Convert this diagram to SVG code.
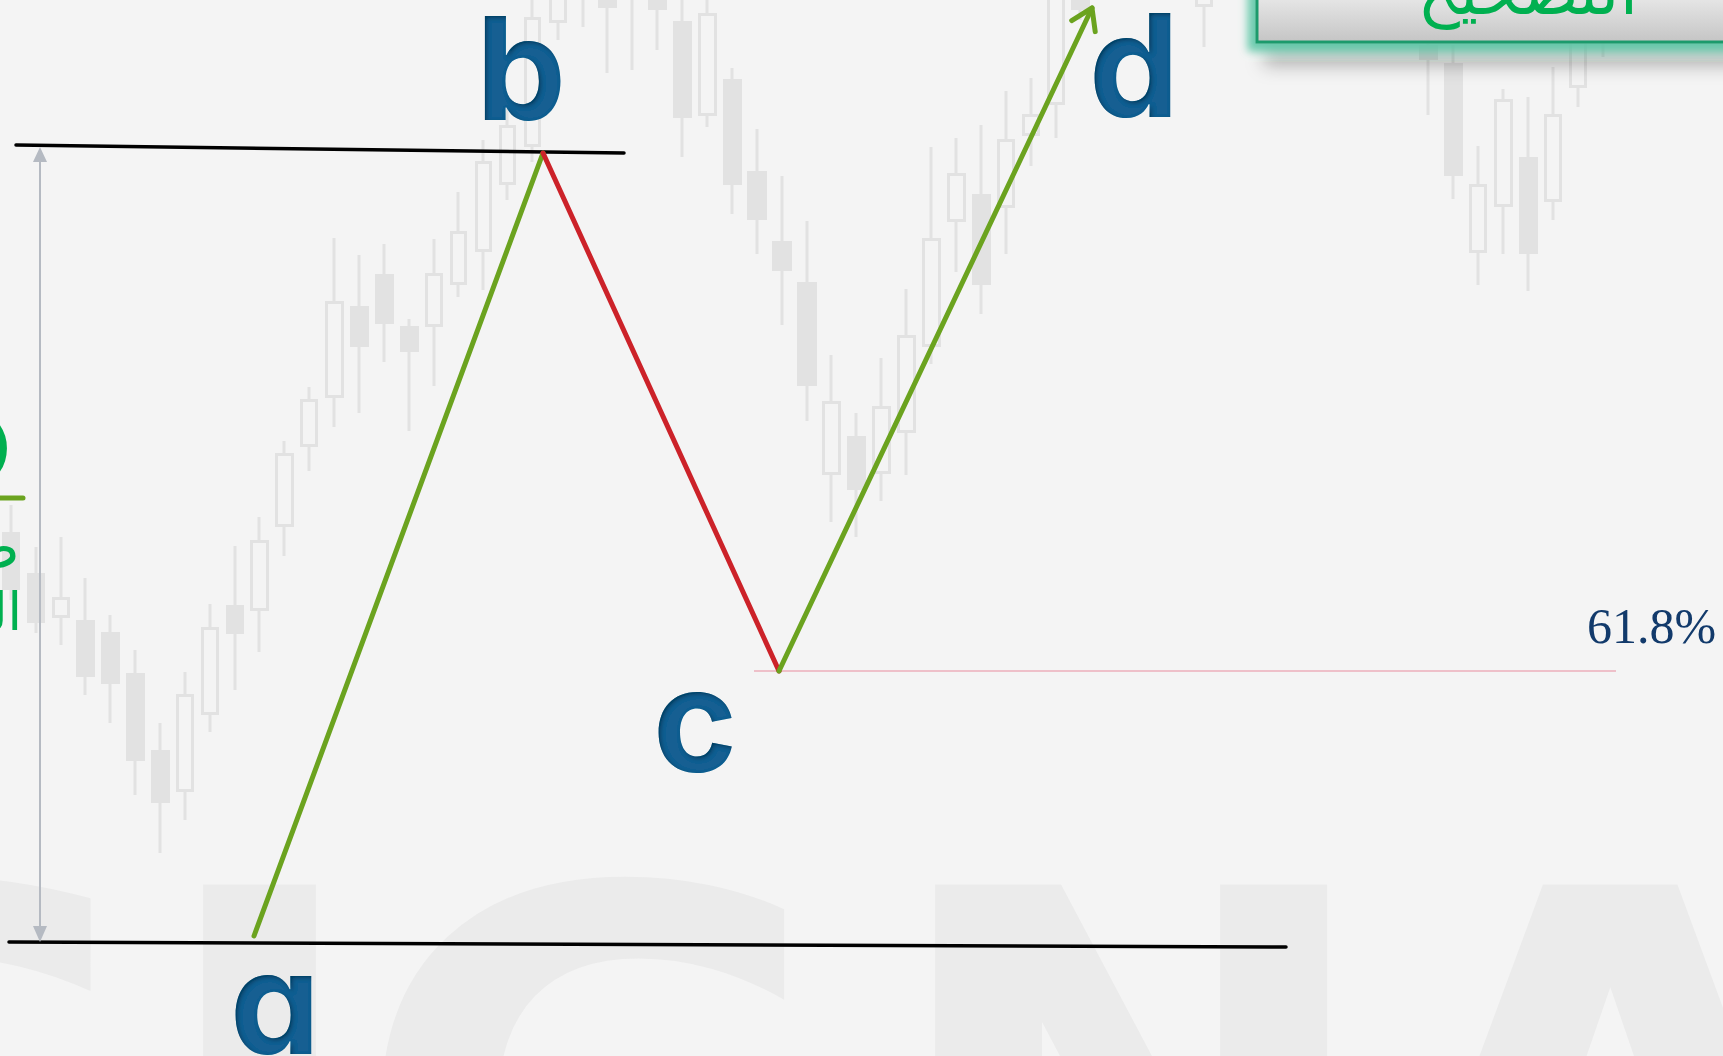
<svg xmlns="http://www.w3.org/2000/svg" width="1723" height="1056" viewBox="0 0 1723 1056">
<style>
.wm{font-family:"DejaVu Sans",sans-serif;font-weight:700;font-size:600px;fill:#ebebeb}
.wk{stroke:#e2e2e2;stroke-width:3}
.cf{fill:#e2e2e2}
.ch{fill:#f4f4f4;stroke:#e2e2e2;stroke-width:3}
.lbl{font-family:Inter,"DejaVu Sans",sans-serif;font-weight:700;font-size:143px;fill:#135f92;text-anchor:middle;font-feature-settings:"cv11" 1}
.lvl{stroke:#000;stroke-width:3.5;stroke-linecap:round;fill:none}
.up{stroke:#6ba31f;stroke-width:5;stroke-linecap:round;fill:none}
.down{stroke:#cc2229;stroke-width:5;stroke-linecap:round;fill:none}
.ar{font-family:"DejaVu Sans","Noto Sans",sans-serif;fill:#00b050}
</style>
<defs>
<marker id="chev" markerUnits="userSpaceOnUse" viewBox="-24 -16 28 32" markerWidth="28" markerHeight="32" refX="0" refY="0" orient="auto">
<path d="M-20,-13 L0,0 L-20,13" fill="none" stroke="#6ba31f" stroke-width="5" stroke-linecap="round" stroke-linejoin="round"/>
</marker>
<linearGradient id="boxg" x1="0" y1="0" x2="0" y2="1">
<stop offset="0" stop-color="#ececec"/>
<stop offset="1" stop-color="#c5c5c5"/>
</linearGradient>
<filter id="boxfx" x="-10%" y="-50%" width="125%" height="260%">
<feGaussianBlur in="SourceAlpha" stdDeviation="9" result="b1"/>
<feOffset in="b1" dx="8" dy="22" result="o1"/>
<feFlood flood-color="#000" flood-opacity="0.28"/>
<feComposite in2="o1" operator="in" result="shadow"/>
<feMorphology in="SourceAlpha" operator="dilate" radius="8" result="d"/>
<feGaussianBlur in="d" stdDeviation="4" result="db"/>
<feFlood flood-color="#5cc7a6" flood-opacity="0.9"/>
<feComposite in2="db" operator="in" result="glow"/>
<feMerge><feMergeNode in="shadow"/><feMergeNode in="glow"/><feMergeNode in="SourceGraphic"/></feMerge>
</filter>
<filter id="inset" x="-5%" y="-5%" width="110%" height="110%">
<feFlood flood-color="#072a45" flood-opacity="0.8"/>
<feComposite in2="SourceAlpha" operator="out"/>
<feGaussianBlur stdDeviation="2"/>
<feOffset dx="2" dy="2" result="s"/>
<feComposite in="s" in2="SourceAlpha" operator="in" result="ins"/>
<feMerge><feMergeNode in="SourceGraphic"/><feMergeNode in="ins"/></feMerge>
</filter>
</defs>

<rect id="background" x="0" y="0" width="1723" height="1056" fill="#f4f4f4"/>

<g id="watermark">
<text class="wm" y="1322"><tspan x="-269">S</tspan><tspan x="148">I</tspan><tspan x="352">G</tspan><tspan x="880">N</tspan><tspan x="1378">A</tspan></text>
</g>

<g id="candles">
<g class="wk">
<line x1="11" y1="505" x2="11" y2="600"/>
<line x1="36" y1="547" x2="36" y2="633"/>
<line x1="61" y1="537" x2="61" y2="645"/>
<line x1="85" y1="578" x2="85" y2="695"/>
<line x1="110" y1="615" x2="110" y2="723"/>
<line x1="135" y1="650" x2="135" y2="795"/>
<line x1="160" y1="723" x2="160" y2="853"/>
<line x1="185" y1="672" x2="185" y2="820"/>
<line x1="210" y1="604" x2="210" y2="732"/>
<line x1="235" y1="546" x2="235" y2="690"/>
<line x1="259" y1="517" x2="259" y2="652"/>
<line x1="284" y1="441" x2="284" y2="556"/>
<line x1="309" y1="387" x2="309" y2="471"/>
<line x1="334" y1="238" x2="334" y2="427"/>
<line x1="359" y1="255" x2="359" y2="413"/>
<line x1="384" y1="244" x2="384" y2="362"/>
<line x1="409" y1="319" x2="409" y2="431"/>
<line x1="434" y1="239" x2="434" y2="386"/>
<line x1="458" y1="192" x2="458" y2="297"/>
<line x1="483" y1="140" x2="483" y2="290"/>
<line x1="507" y1="105" x2="507" y2="200"/>
<line x1="532" y1="0" x2="532" y2="162"/>
<line x1="558" y1="0" x2="558" y2="40"/>
<line x1="583" y1="0" x2="583" y2="27"/>
<line x1="607" y1="0" x2="607" y2="73"/>
<line x1="632" y1="0" x2="632" y2="70"/>
<line x1="657" y1="0" x2="657" y2="50"/>
<line x1="682" y1="0" x2="682" y2="157"/>
<line x1="707" y1="0" x2="707" y2="127"/>
<line x1="732" y1="68" x2="732" y2="214"/>
<line x1="757" y1="129" x2="757" y2="254"/>
<line x1="782" y1="176" x2="782" y2="325"/>
<line x1="807" y1="221" x2="807" y2="421"/>
<line x1="831" y1="355" x2="831" y2="522"/>
<line x1="856" y1="413" x2="856" y2="537"/>
<line x1="881" y1="358" x2="881" y2="501"/>
<line x1="906" y1="289" x2="906" y2="475"/>
<line x1="931" y1="147" x2="931" y2="364"/>
<line x1="956" y1="138" x2="956" y2="272"/>
<line x1="981" y1="125" x2="981" y2="314"/>
<line x1="1006" y1="91" x2="1006" y2="254"/>
<line x1="1031" y1="78" x2="1031" y2="166"/>
<line x1="1056" y1="0" x2="1056" y2="138"/>
<line x1="1080" y1="0" x2="1080" y2="20"/>
<line x1="1204" y1="0" x2="1204" y2="47"/>
<line x1="1428" y1="30" x2="1428" y2="115"/>
<line x1="1453" y1="45" x2="1453" y2="199"/>
<line x1="1478" y1="146" x2="1478" y2="285"/>
<line x1="1503" y1="89" x2="1503" y2="254"/>
<line x1="1528" y1="97" x2="1528" y2="291"/>
<line x1="1553" y1="67" x2="1553" y2="220"/>
<line x1="1578" y1="20" x2="1578" y2="107"/>
<line x1="1603" y1="30" x2="1603" y2="57"/>
</g>
<g class="cf">
<rect x="2" y="532" width="18" height="58"/>
<rect x="27" y="573" width="18" height="50"/>
<rect x="76" y="620" width="19" height="57"/>
<rect x="101" y="632" width="19" height="52"/>
<rect x="126" y="673" width="19" height="88"/>
<rect x="151" y="750" width="19" height="53"/>
<rect x="226" y="605" width="18" height="29"/>
<rect x="350" y="306" width="19" height="41"/>
<rect x="375" y="274" width="19" height="50"/>
<rect x="400" y="326" width="19" height="26"/>
<rect x="598" y="-5" width="19" height="13"/>
<rect x="648" y="-5" width="19" height="15"/>
<rect x="673" y="21" width="19" height="97"/>
<rect x="723" y="79" width="19" height="106"/>
<rect x="747" y="171" width="20" height="49"/>
<rect x="772" y="241" width="20" height="30"/>
<rect x="797" y="282" width="20" height="104"/>
<rect x="847" y="436" width="19" height="54"/>
<rect x="972" y="194" width="19" height="91"/>
<rect x="1071" y="-5" width="19" height="15"/>
<rect x="1419" y="45" width="19" height="15"/>
<rect x="1444" y="63" width="19" height="113"/>
<rect x="1519" y="157" width="19" height="97"/>
</g>
<g class="ch">
<rect x="53.5" y="598.5" width="15" height="18"/>
<rect x="177.5" y="695.5" width="15" height="95"/>
<rect x="202.5" y="628.5" width="15" height="85"/>
<rect x="251.5" y="541.5" width="16" height="68"/>
<rect x="276.5" y="454.5" width="16" height="71"/>
<rect x="301.5" y="400.5" width="15" height="45"/>
<rect x="326.5" y="302.5" width="16" height="94"/>
<rect x="426.5" y="274.5" width="15" height="51"/>
<rect x="451.5" y="232.5" width="14" height="51"/>
<rect x="476.5" y="162.5" width="14" height="88"/>
<rect x="500.5" y="126.5" width="14" height="57"/>
<rect x="525.5" y="18.5" width="14" height="127"/>
<rect x="550.5" y="-5" width="15" height="26.5"/>
<rect x="699.5" y="14.5" width="16" height="100"/>
<rect x="823.5" y="402.5" width="16" height="71"/>
<rect x="873.5" y="407.5" width="16" height="65"/>
<rect x="898.5" y="336.5" width="16" height="95"/>
<rect x="923.5" y="239.5" width="16" height="106"/>
<rect x="948.5" y="174.5" width="16" height="46"/>
<rect x="998.5" y="140.5" width="15" height="66"/>
<rect x="1023.5" y="115.5" width="15" height="19"/>
<rect x="1048.5" y="-5" width="15" height="108.5"/>
<rect x="1196.5" y="-5" width="15" height="10.5"/>
<rect x="1470.5" y="185.5" width="15" height="66"/>
<rect x="1495.5" y="100.5" width="16" height="105"/>
<rect x="1545.5" y="115.5" width="15" height="85"/>
<rect x="1570.5" y="31.5" width="15" height="55"/>
</g>
</g>

<g id="levels">
<line class="lvl" x1="16" y1="145" x2="624" y2="153"/>
<line class="lvl" x1="9" y1="942" x2="1286" y2="947"/>
<line x1="754" y1="671" x2="1616" y2="671" stroke="#eec0c9" stroke-width="2"/>
<line x1="40" y1="160" x2="40" y2="930" stroke="#b5bac2" stroke-width="2"/>
<path d="M40,147 L33,162 L47,162 Z" fill="#b5bac2"/>
<path d="M40,942 L33,926 L47,926 Z" fill="#b5bac2"/>
</g>

<g id="connectors">
<line class="up" x1="254" y1="936" x2="543" y2="153"/>
<line class="down" x1="543" y1="153" x2="779" y2="671"/>
<line class="up" x1="779" y1="671" x2="1092" y2="8" marker-end="url(#chev)"/>
</g>

<g id="node-a"><text class="lbl" x="275" y="1054" filter="url(#inset)">a</text></g>
<g id="node-b"><text class="lbl" x="521" y="120" filter="url(#inset)">b</text></g>
<g id="node-c"><text class="lbl" x="695" y="771" filter="url(#inset)">c</text></g>
<g id="node-d"><text class="lbl" x="1134" y="117" filter="url(#inset)">d</text></g>

<g id="ratio-label">
<text x="1587" y="643" font-family="Liberation Serif, serif" font-size="50" fill="#123a6b">61.8%</text>
</g>

<g id="title-box">
<rect x="1257" y="-10" width="480" height="52" fill="url(#boxg)" stroke="#1f9a6c" stroke-width="3" filter="url(#boxfx)"/>
<text class="ar" x="1638" y="14" font-size="66" text-anchor="end">التصحيح</text>
</g>

<g id="left-text">
<text class="ar" x="20" y="487" font-size="260" font-weight="700" text-anchor="end">ه</text>
<line x1="0" y1="498" x2="23" y2="498" stroke="#6ba31f" stroke-width="5" stroke-linecap="round"/>
<text class="ar" x="20" y="568" font-size="60" text-anchor="end">صـ</text>
<text class="ar" x="22" y="630" font-size="52" text-anchor="end">الـ</text>
</g>
</svg>
